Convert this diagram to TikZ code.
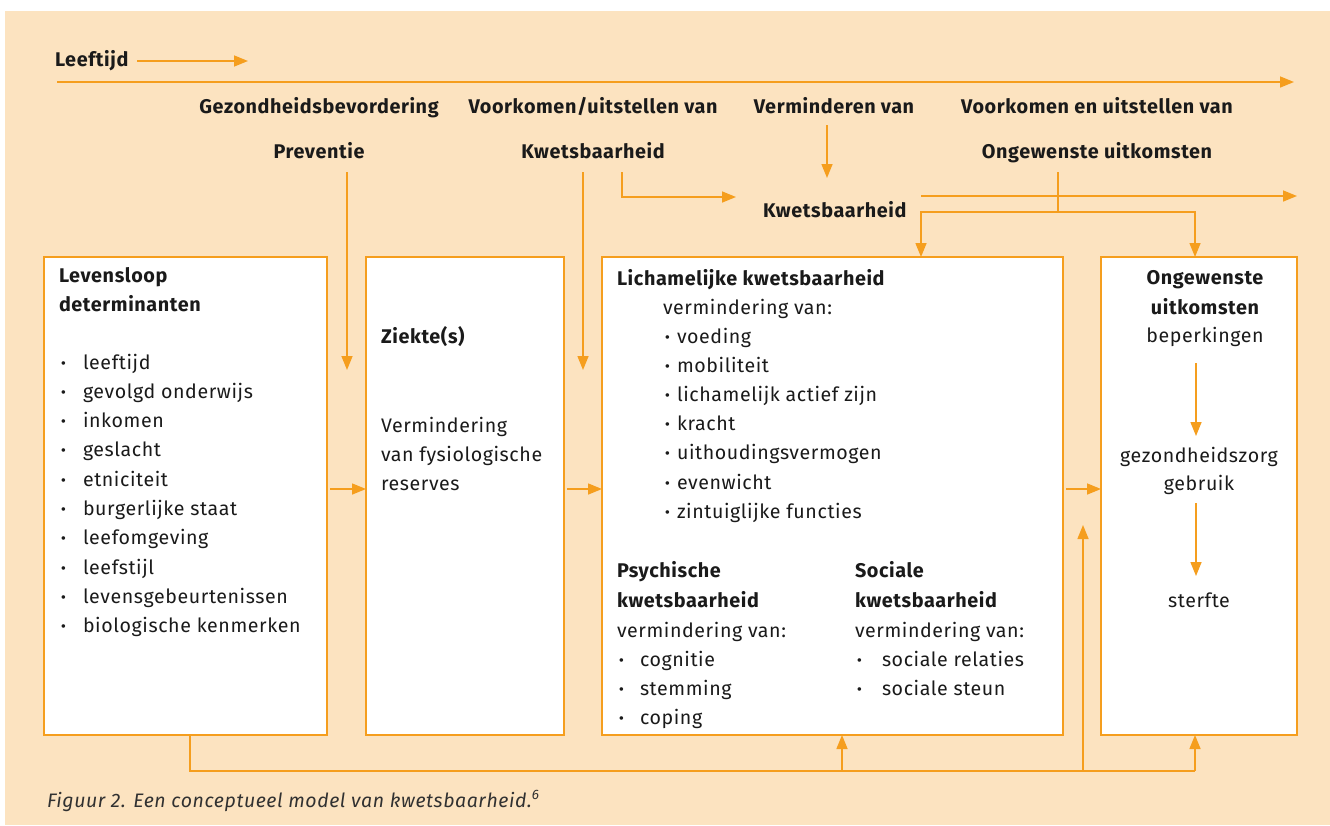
\documentclass[tikz,border=0pt]{standalone}
\usepackage{fontspec}
\setmainfont{Fira Sans}[LetterSpace=3]
\usetikzlibrary{arrows.meta}
\definecolor{peach}{HTML}{FCE3C0}
\definecolor{org}{HTML}{F59E1E}
\definecolor{ink}{HTML}{1A1A1A}
\begin{document}
\begin{tikzpicture}[x=1pt,y=-1pt,
  every node/.style={inner sep=0pt, outer sep=0pt, text=ink},
  lbl/.style={anchor=base west, font=\fontsize{19.6}{23}\selectfont},
  hd/.style={anchor=base west, font=\fontsize{19.8}{23}\selectfont\bfseries},
  clbl/.style={anchor=base, font=\fontsize{19.6}{23}\selectfont},
  chd/.style={anchor=base, font=\fontsize{19.8}{23}\selectfont\bfseries},
  box/.style={draw=org, fill=white, line width=1.5pt, anchor=north west, minimum height=478pt},
  ln/.style={draw=org, line width=1.5pt},
  arr/.style={ln, -{Triangle[length=14pt,width=11pt]}},
]
\fill[white] (0,0) rectangle (1330,825);
\fill[peach] (5,11) rectangle (1330,825);
\useasboundingbox (0,0) rectangle (1330,825);

% ---- top labels
\node[hd] (leef) at (55,66) {Leeftijd};
\coordinate (leefA) at (137,61);
\coordinate (leefB) at (248,61);
\draw[arr] (leefA) -- (leefB);
\coordinate (tlA) at (57,82);
\coordinate (tlB) at (1294,82);
\draw[arr] (tlA) -- (tlB);

\node[hd, anchor=base] (gez) at (319,113) {Gezondheidsbevordering};
\node[hd, anchor=base] (prev) at (319,158) {Preventie};
\node[hd, anchor=base] (vu) at (593,113) {Voorkomen/uitstellen van};
\node[hd, anchor=base] (kw1) at (593,158) {Kwetsbaarheid};
\node[hd, anchor=base] (verm) at (834,113) {Verminderen van};
\node[hd] (kw2) at (763,217) {Kwetsbaarheid};
\node[hd, anchor=base] (vo) at (1097,113) {Voorkomen en uitstellen van};
\node[hd, anchor=base] (ong) at (1097,158) {Ongewenste uitkomsten};

% ---- boxes
\node[box, minimum width=283pt] (b1) at (44,257) {};
\node[box, minimum width=198pt] (b2) at (366,257) {};
\node[box, minimum width=461pt] (b3) at (602,257) {};
\node[box, minimum width=196pt] (b4) at (1101,257) {};

% ---- box 1
\node[hd] (b1h1) at (59,282) {Levensloop};
\node[hd] (b1h2) at (59,311) {determinanten};
\foreach \t [count=\i from 0] in {leeftijd, gevolgd onderwijs, inkomen, geslacht, etniciteit, burgerlijke staat, leefomgeving, leefstijl, levensgebeurtenissen, biologische kenmerken}
  \node[lbl] (b1i\i) at (61,369+\i*29.3) {\makebox[22pt][l]{\textbf{·}}\t};

% ---- box 2
\node[hd] (b2h) at (381,343) {Ziekte(s)};
\node[lbl] (b2a) at (381,432) {Vermindering};
\node[lbl] (b2b) at (381,461) {van fysiologische};
\node[lbl] (b2c) at (381,490) {reserves};

% ---- box 3
\node[hd] (b3h) at (617,285) {Lichamelijke kwetsbaarheid};
\node[lbl] (b3v) at (663,314) {vermindering van:};
\foreach \t [count=\i from 0] in {voeding, mobiliteit, lichamelijk actief zijn, kracht, uithoudingsvermogen, evenwicht, zintuiglijke functies}
  \node[lbl] (b3i\i) at (665,343+\i*29.2) {\makebox[12pt][l]{\textbf{·}}\t};

\node[hd] (psy1) at (617,577) {Psychische};
\node[hd] (psy2) at (617,607) {kwetsbaarheid};
\node[lbl] (psy3) at (617,637) {vermindering van:};
\foreach \t [count=\i from 0] in {cognitie, stemming, coping}
  \node[lbl] (psyi\i) at (619,666+\i*29.2) {\makebox[21pt][l]{\textbf{·}}\t};

\node[hd] (soc1) at (855,577) {Sociale};
\node[hd] (soc2) at (855,607) {kwetsbaarheid};
\node[lbl] (soc3) at (855,637) {vermindering van:};
\foreach \t [count=\i from 0] in {sociale relaties, sociale steun}
  \node[lbl] (soci\i) at (857,666+\i*29.2) {\makebox[25pt][l]{\textbf{·}}\t};

% ---- box 4
\node[chd] (o1) at (1205,284) {Ongewenste};
\node[chd] (o2) at (1205,314) {uitkomsten};
\node[clbl] (o3) at (1205,342) {beperkingen};
\node[clbl] (g1) at (1199,462) {gezondheidszorg};
\node[clbl] (g2) at (1199,490) {gebruik};
\node[clbl] (st) at (1199,607) {sterfte};
\coordinate (a1s) at (1196,363);
\coordinate (a1e) at (1196,436);
\coordinate (a2s) at (1196,503);
\coordinate (a2e) at (1196,576);
\draw[arr] (a1s) -- (a1e);
\draw[arr] (a2s) -- (a2e);

% ---- connectors from top
\coordinate (pvA) at (347,172);
\coordinate (pvB) at (347,370);
\draw[arr] (pvA) -- (pvB);
\coordinate (kwA) at (583,172);
\coordinate (kwB) at (583,370);
\draw[arr] (kwA) -- (kwB);
\coordinate (elA) at (622,172);
\coordinate (elB) at (736,197);
\draw[arr] (elA) |- (elB);
\coordinate (vmA) at (827,125);
\coordinate (vmB) at (827,178);
\draw[arr] (vmA) -- (vmB);
\coordinate (k2A) at (921,196);
\coordinate (k2B) at (1297,196);
\draw[arr] (k2A) -- (k2B);
\coordinate (onA) at (1058,172);
\coordinate (onB) at (1058,212);
\draw[ln] (onA) -- (onB);
\draw[arr] (onB) -| (b3.north -| 921,0);
\draw[arr] (onB) -| (b4.north -| 1195,0);

% ---- between boxes
\draw[arr] ([xshift=3pt]b1.east |- 0,489) -- (b2.west |- 0,489);
\draw[arr] ([xshift=3pt]b2.east |- 0,489) -- (b3.west |- 0,489);
\draw[arr] ([xshift=3pt]b3.east |- 0,489) -- (b4.west |- 0,489);

% ---- bottom feedback
\coordinate (fbL) at (190,771);
\coordinate (fbM) at (842,771);
\coordinate (fbV) at (1083,771);
\coordinate (fbVt) at (1083,525);
\draw[ln] (b1.south -| fbL) -- (fbL) -- (1195,771);
\draw[arr] (1195,771) -- (b4.south -| 1195,0);
\draw[arr] (fbM) -- (b3.south -| fbM);
\draw[arr] (fbV) -- (fbVt);

% ---- caption
\node[anchor=base west, font=\fontsize{19.5}{22}\selectfont\itshape, text=ink!90] (cap) at (47,807)
  {Figuur 2. Een conceptueel model van kwetsbaarheid.\textsuperscript{6}};
\end{tikzpicture}
\end{document}
